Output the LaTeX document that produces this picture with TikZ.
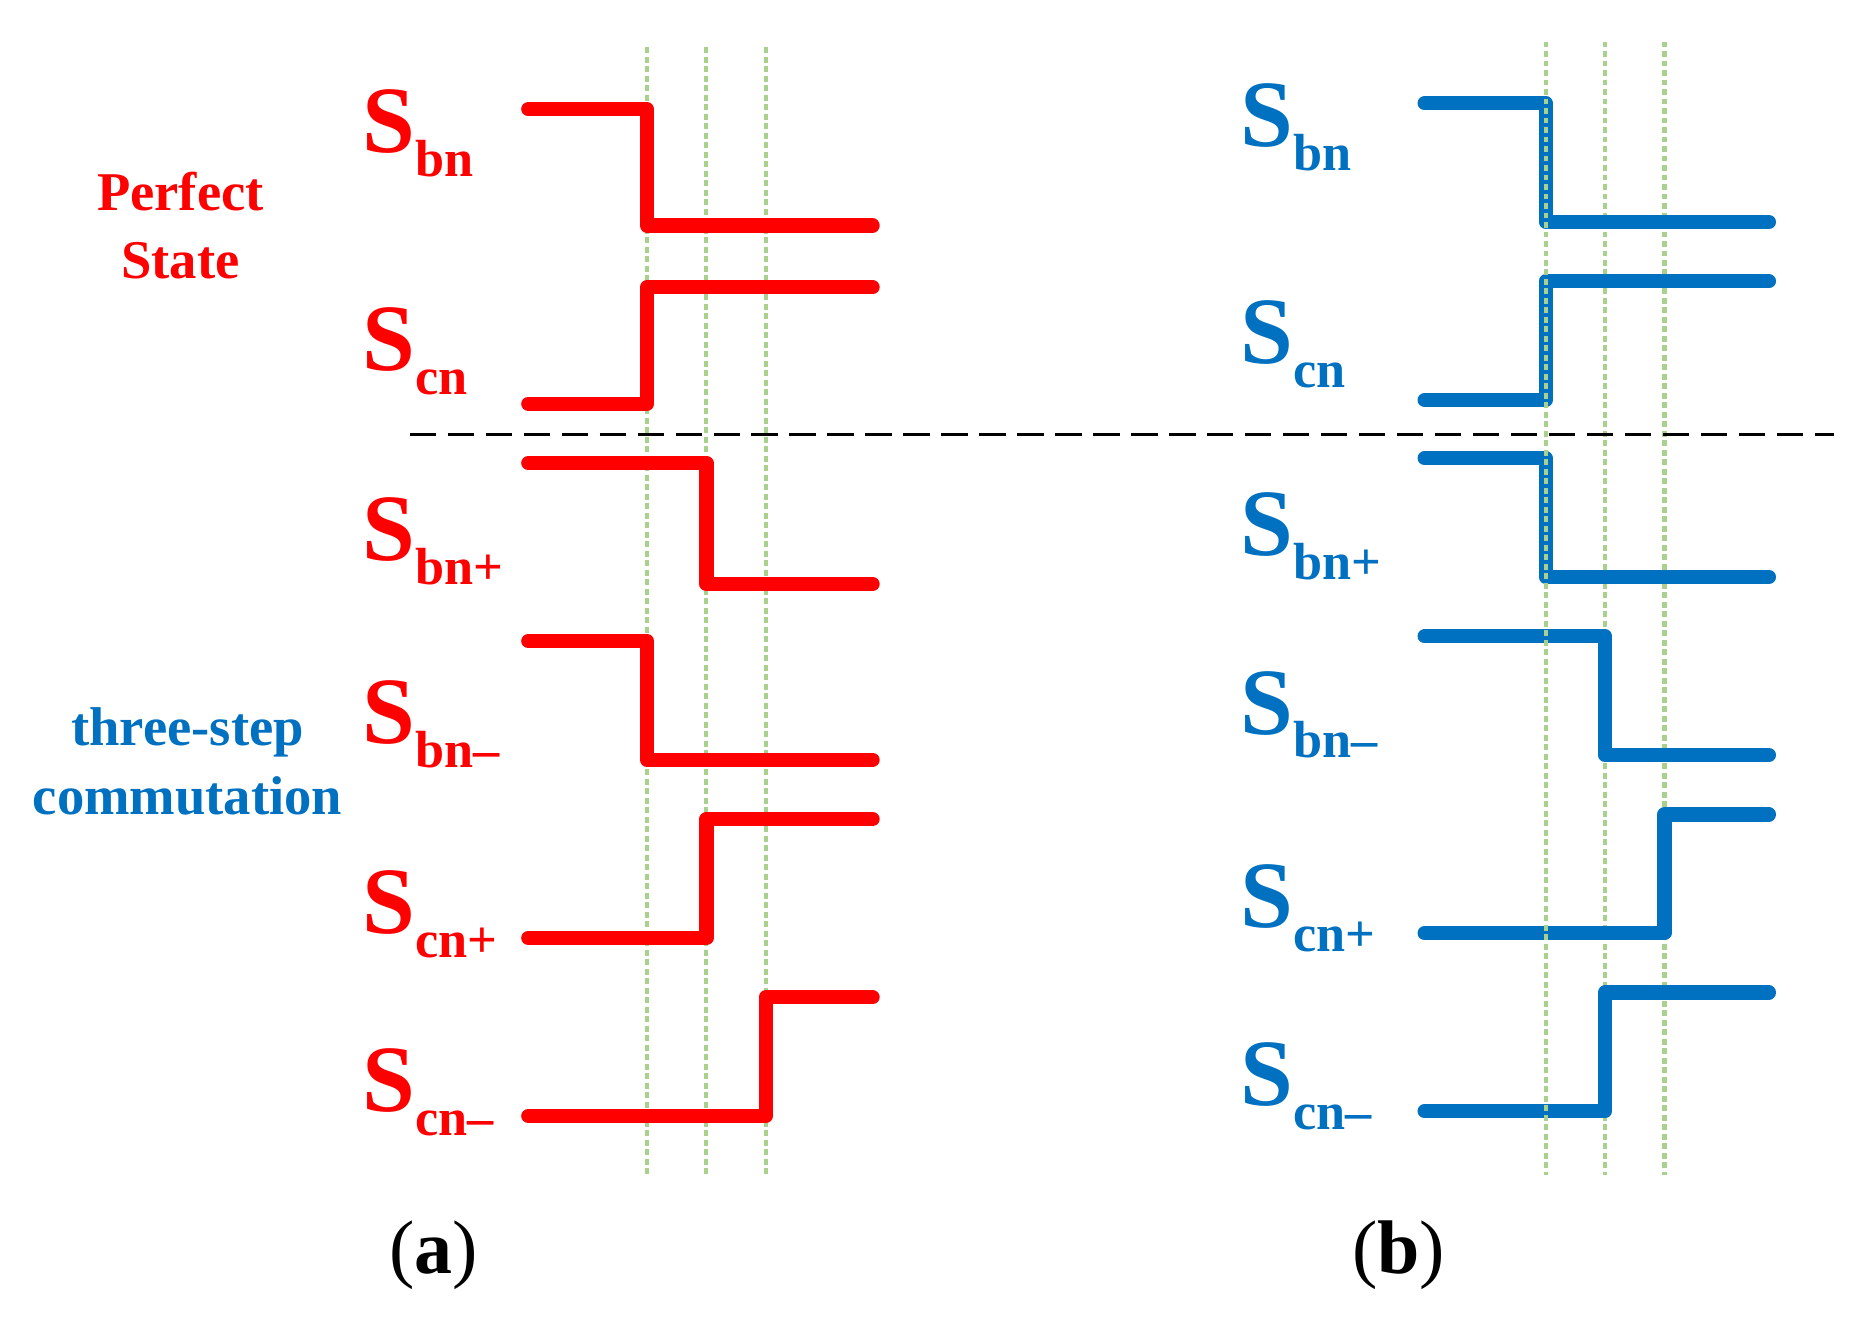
\documentclass[tikz,border=0pt]{standalone}
\usepackage{fontspec}
\setmainfont{Liberation Serif}
\usetikzlibrary{calc}
\definecolor{sred}{HTML}{FF0000}
\definecolor{sblue}{HTML}{0070C0}
\definecolor{sgreen}{HTML}{A9D18E}
\newcommand{\sigsub}[1]{\raisebox{-20pt}{\fontsize{44}{44}\selectfont #1}}
\tikzset{wave/.style={line width=12pt, line cap=round, line join=round},
    guide/.style={sgreen, line width=3.5pt, dash pattern=on 5pt off 3pt},
    lbl/.style={anchor=west, inner sep=0pt, font=\bfseries\fontsize{80}{80}\selectfont},
    txt/.style={align=center, font=\bfseries\fontsize{46}{58}\selectfont}}
\begin{document}
\begin{tikzpicture}[x=1pt, y=-1pt]
\useasboundingbox (0,0) rectangle (1560,1120);

%%% guides
\draw[guide] (545,40) -- (545,990);
\draw[guide] (595,40) -- (595,990);
\draw[guide] (645,40) -- (645,990);
\draw[guide] (1302,35) -- (1302,990);
\draw[guide] (1352,35) -- (1352,990);
\draw[guide] (1402,35) -- (1402,990);

% separator
\draw[dash pattern=on 22pt off 10pt, line width=2pt] (345,366) -- (1545,366);

%%% signaux (a)
\draw[wave, sred] (445,92) -- (545,92) -- (545,190) -- (735,190);
\draw[wave, sred] (445,340) -- (545,340) -- (545,242) -- (735,242);
\draw[wave, sred] (445,390) -- (595,390) -- (595,492) -- (735,492);
\draw[wave, sred] (445,540) -- (545,540) -- (545,640) -- (735,640);
\draw[wave, sred] (445,790) -- (595,790) -- (595,690) -- (735,690);
\draw[wave, sred] (445,940) -- (645,940) -- (645,840) -- (735,840);

%%% signaux (b)
\draw[wave, sblue] (1200,87) -- (1302,87) -- (1302,187) -- (1490,187);
\draw[wave, sblue] (1200,337) -- (1302,337) -- (1302,237) -- (1490,237);
\draw[wave, sblue] (1200,386) -- (1302,386) -- (1302,486) -- (1490,486);
\draw[wave, sblue] (1200,536) -- (1352,536) -- (1352,636) -- (1490,636);
\draw[wave, sblue] (1200,786) -- (1402,786) -- (1402,686) -- (1490,686);
\draw[wave, sblue] (1200,936) -- (1352,936) -- (1352,836) -- (1490,836);

% guides over blue edges
\draw[guide] (1302,35) -- (1302,990);

%%% labels
\node[lbl, sred] (abn) at (305,112) {S\sigsub{bn}};
\node[lbl, sred] (acn) at (305,296) {S\sigsub{cn}};
\node[lbl, sred] (abnp) at (305,456) {S\sigsub{bn+}};
\node[lbl, sred] (abnm) at (305,610) {S\sigsub{bn–}};
\node[lbl, sred] (acnp) at (305,770) {S\sigsub{cn+}};
\node[lbl, sred] (acnm) at (305,920) {S\sigsub{cn–}};
\node[lbl, sblue] (bbn) at (1045,107) {S\sigsub{bn}};
\node[lbl, sblue] (bcn) at (1045,290) {S\sigsub{cn}};
\node[lbl, sblue] (bbnp) at (1045,452) {S\sigsub{bn+}};
\node[lbl, sblue] (bbnm) at (1045,602) {S\sigsub{bn–}};
\node[lbl, sblue] (bcnp) at (1045,765) {S\sigsub{cn+}};
\node[lbl, sblue] (bcnm) at (1045,915) {S\sigsub{cn–}};

\node[txt, sred] (perfect) at (152,190) {Perfect\\State};
\node[txt, sblue] (three) at (158,641) {three-step\\commutation};

\node[font=\fontsize{64}{64}\selectfont] (capa) at (365,1057) {(\textbf{a})};
\node[font=\fontsize{64}{64}\selectfont] (capb) at (1178,1057) {(\textbf{b})};
\end{tikzpicture}
\end{document}
